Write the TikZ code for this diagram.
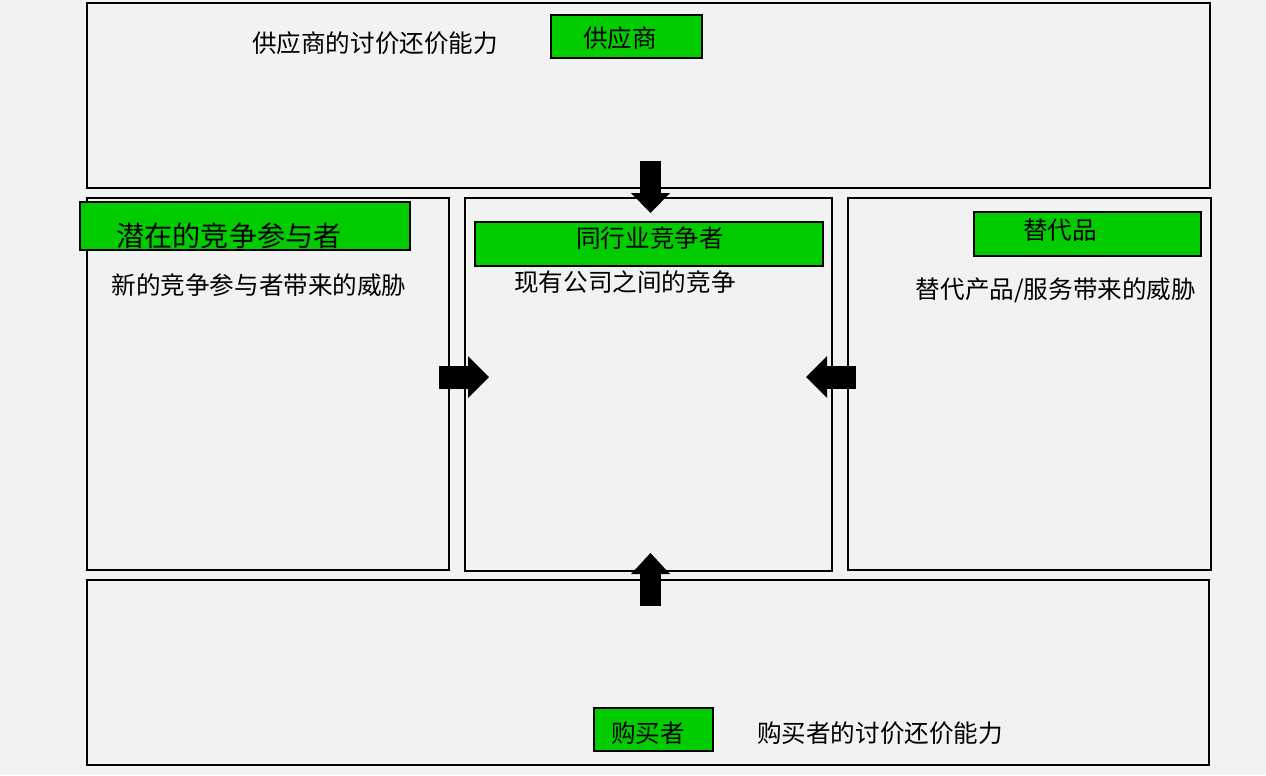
\documentclass[tikz,border=0pt]{standalone}
\usepackage{fontspec}
\newfontfamily\cjk{Noto Sans CJK SC}
\usetikzlibrary{shapes.arrows}
\definecolor{bggray}{HTML}{F2F2F2}
\definecolor{tagreen}{HTML}{00CC00}
\tikzset{
    panel/.style={draw, thick},
    tag/.style={draw, thick, fill=tagreen},
    txt/.style={font=\cjk\fontsize{14}{16}\selectfont},
    blockarrow/.style={single arrow, fill=black, minimum width=42\pgfscale, single arrow head extend=0.6pt, inner sep=0pt}
}
\begin{document}
\begin{tikzpicture}[x=0.02cm, y=-0.02cm]

    % Background
    \fill[bggray] (0,0) rectangle (1266,775);

    % Panels
    \draw[panel] (87,3) rectangle (1210,188);
    \draw[panel] (87,198) rectangle (449,570);
    \draw[panel] (465,198) rectangle (832,571);
    \draw[panel] (848,198) rectangle (1211,570);
    \draw[panel] (87,580) rectangle (1209,765);

    % Green tags
    \draw[tag] (551,15) rectangle (702,58);
    \draw[tag] (80,202) rectangle (410,250);
    \draw[tag] (475,222) rectangle (823,266);
    \draw[tag] (974,212) rectangle (1201,256);
    \draw[tag] (594,708) rectangle (713,751);

    % Labels
    \node[txt] (supplier) at (620,38) {供应商};
    \node[txt, font=\cjk\fontsize{16}{18}\selectfont] (entrant) at (229,236) {潜在的竞争参与者};
    \node[txt] (rival) at (650,238) {同行业竞争者};
    \node[txt] (substitute) at (1060,230) {替代品};
    \node[txt] (buyer) at (648,733) {购买者};

    \node[txt] (supplierpower) at (375,43) {供应商的讨价还价能力};
    \node[txt] (entrantthreat) at (259,285) {新的竞争参与者带来的威胁};
    \node[txt] (rivalry) at (625,282) {现有公司之间的竞争};
    \node[txt] (substitutethreat) at (1056,290) {替代产品/服务带来的威胁};
    \node[txt] (buyerpower) at (880,733) {购买者的讨价还价能力};

    % Arrows
    \fill (640,161) rectangle (661,195);
    \fill (631,193) -- (670,193) -- (650.5,213) -- cycle;
    \fill (640,574) rectangle (661,606);
    \fill (631,574) -- (670,574) -- (650.5,553) -- cycle;
    \fill (439,366) rectangle (470,389);
    \fill (468,356) -- (468,398) -- (489,377) -- cycle;
    \fill (825,366) rectangle (856,389);
    \fill (827,356) -- (827,398) -- (806,377) -- cycle;

\end{tikzpicture}
\end{document}
